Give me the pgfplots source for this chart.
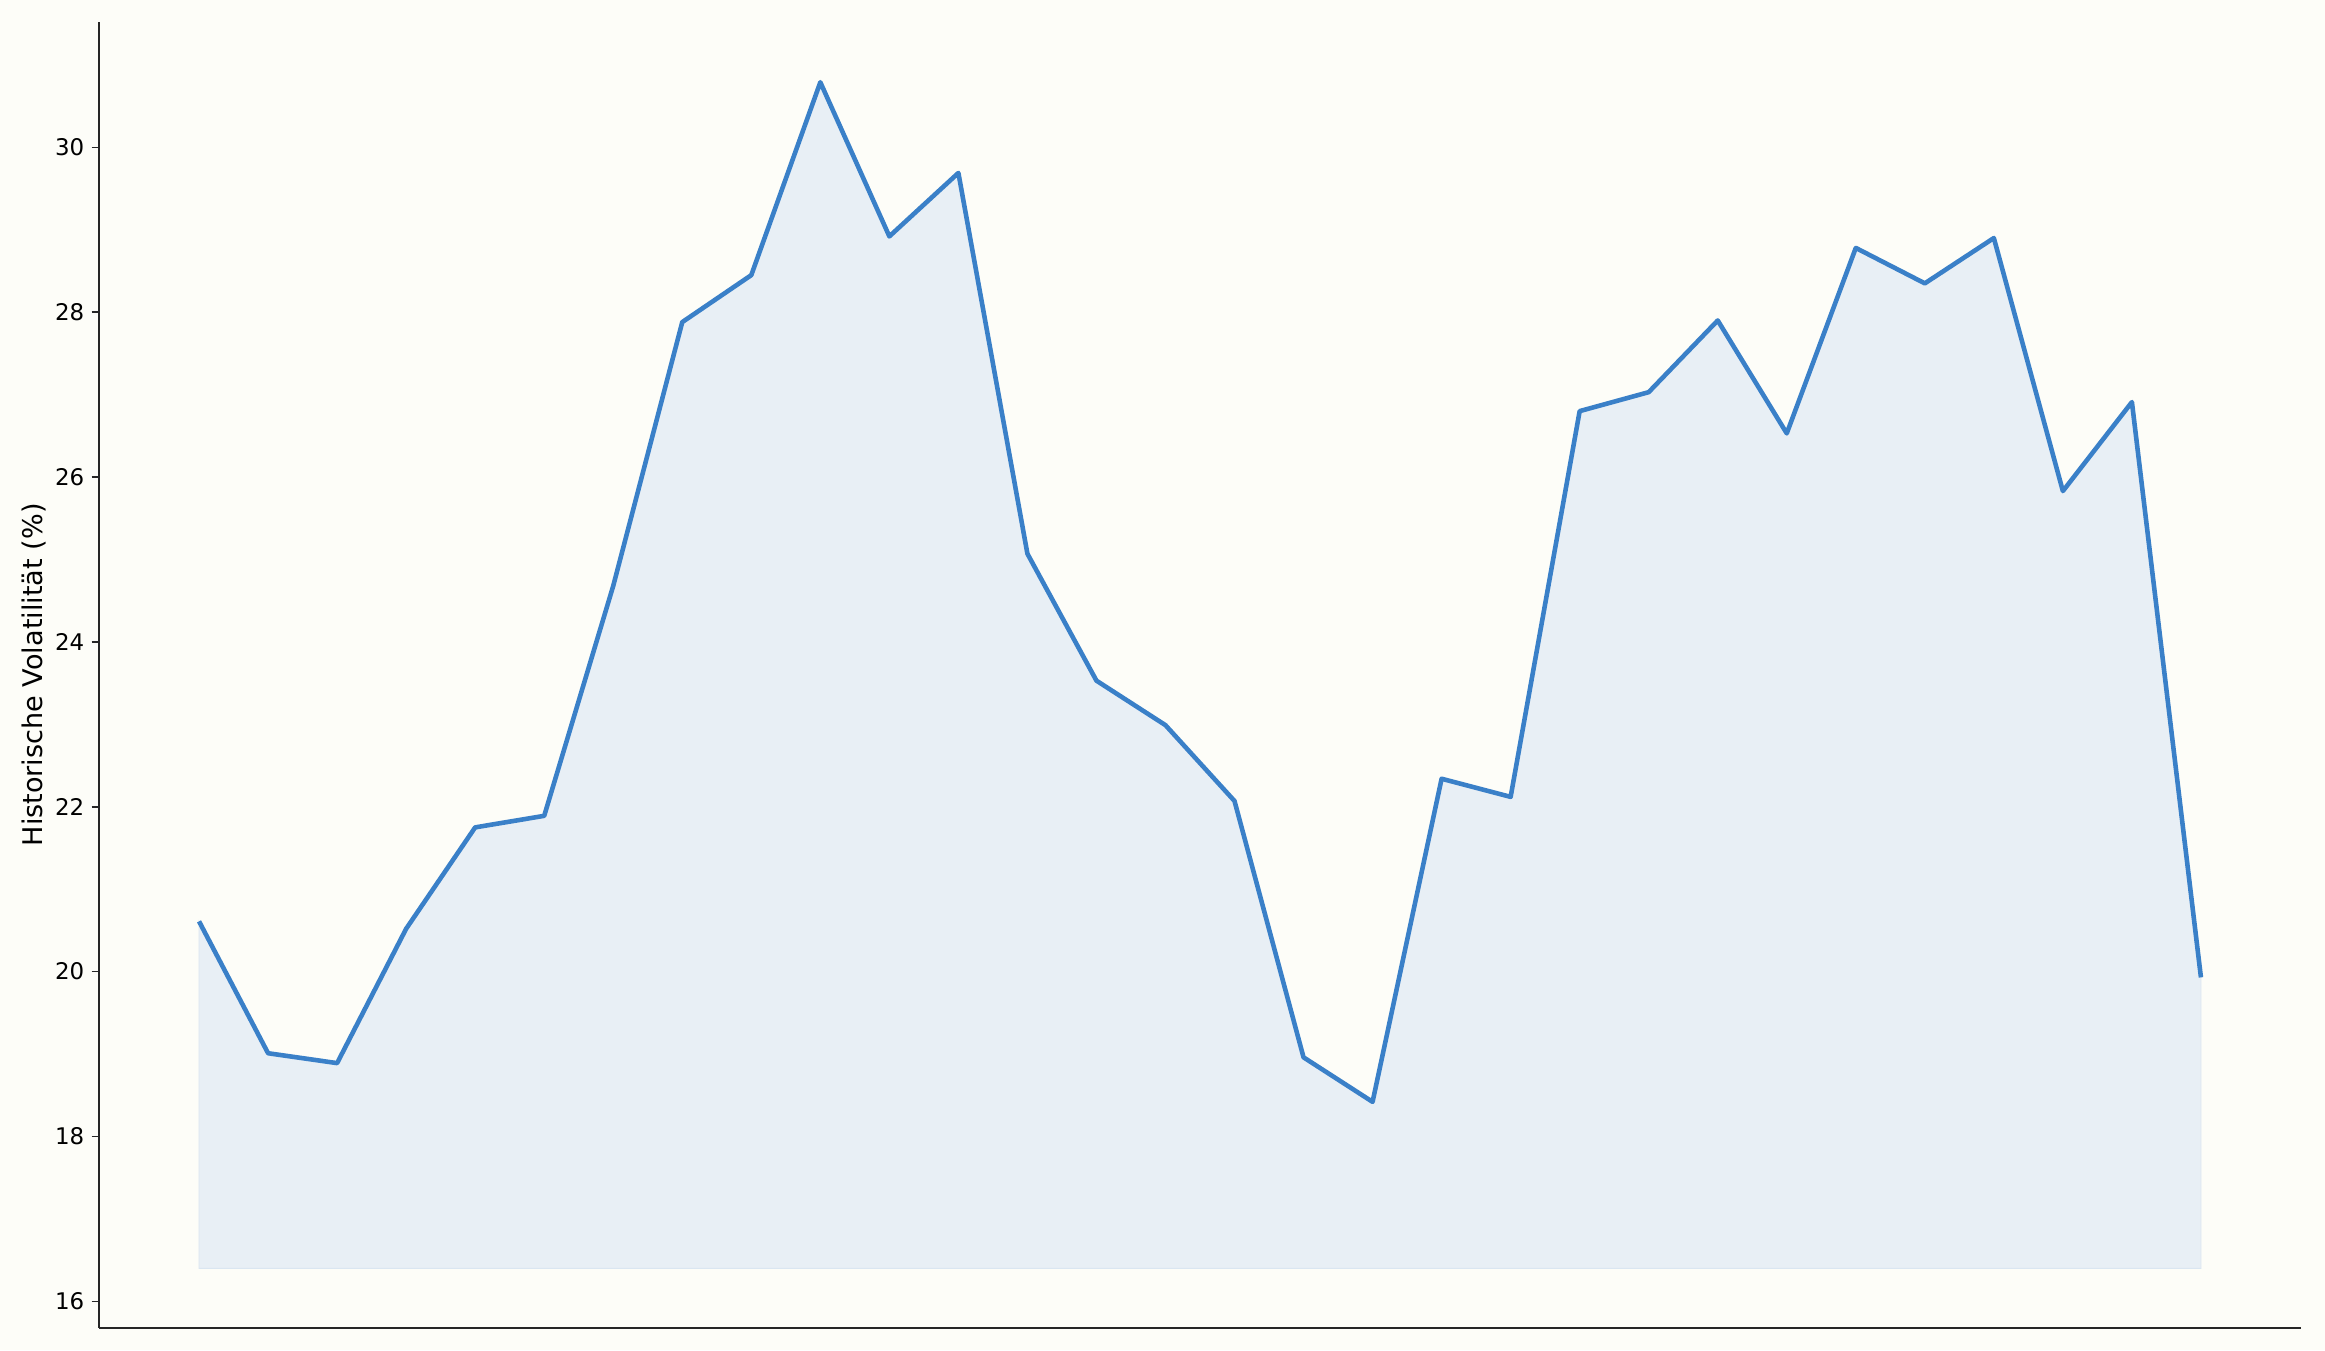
\documentclass[border=0pt]{standalone}
\usepackage{fontspec}
\setmainfont{DejaVu Sans}
\usepackage{pgfplots}
\pgfplotsset{compat=1.18}
\definecolor{bgc}{HTML}{FDFDF8}
\definecolor{linec}{HTML}{3A80C8}
\definecolor{fillc}{HTML}{E8EFF5}
\definecolor{spine}{HTML}{262626}
\pgfplotstableread{
x y
0 20.61
1 19.01
2 18.89
3 20.52
4 21.75
5 21.89
6 24.68
7 27.88
8 28.45
9 30.79
10 28.92
11 29.69
12 25.07
13 23.53
14 22.99
15 22.07
16 18.96
17 18.42
18 22.34
19 22.12
20 26.80
21 27.03
22 27.90
23 26.53
24 28.78
25 28.35
26 28.90
27 25.83
28 26.91
29 19.93
}\vol
\pgfplotstableread{
x y
0 16.4
0 20.61
1 19.01
2 18.89
3 20.52
4 21.75
5 21.89
6 24.68
7 27.88
8 28.45
9 30.79
10 28.92
11 29.69
12 25.07
13 23.53
14 22.99
15 22.07
16 18.96
17 18.42
18 22.34
19 22.12
20 26.80
21 27.03
22 27.90
23 26.53
24 28.78
25 28.35
26 28.90
27 25.83
28 26.91
29 19.93
29 16.4
}\volfill
\begin{document}
\begin{tikzpicture}
\fill[bgc] (-47.5pt,-10.7pt) rectangle (1068.5pt,637.3pt);
\begin{axis}[
  scale only axis,
  width=1057pt, height=626.7pt,
  xmin=-1.45, xmax=30.45,
  ymin=15.68, ymax=31.52,
  axis lines=left,
  axis line style={-, draw=spine, line width=0.8pt},
  xtick=\empty,
  ytick={16,18,...,30},
  tick align=outside,
  major tick length=3.5pt,
  every tick/.style={draw=spine, line width=0.8pt},
  tick label style={font=\fontsize{11}{13}\selectfont},
  /pgf/number format/assume math mode=true,
  ylabel={Historische Volatilität (\%)},
  ylabel style={at={(axis description cs:-0.0295,0.5)}, anchor=center, font=\fontsize{13}{15}\selectfont},
  clip=false,
]
\addplot[fill=fillc, draw=fillc!92!linec, line width=0.4pt, forget plot] table[x=x,y=y] {\volfill} -- cycle;
\addplot[linec, line width=2.2pt, line join=round, no marks] table[x=x,y=y] {\vol};
\end{axis}
\end{tikzpicture}
\end{document}
